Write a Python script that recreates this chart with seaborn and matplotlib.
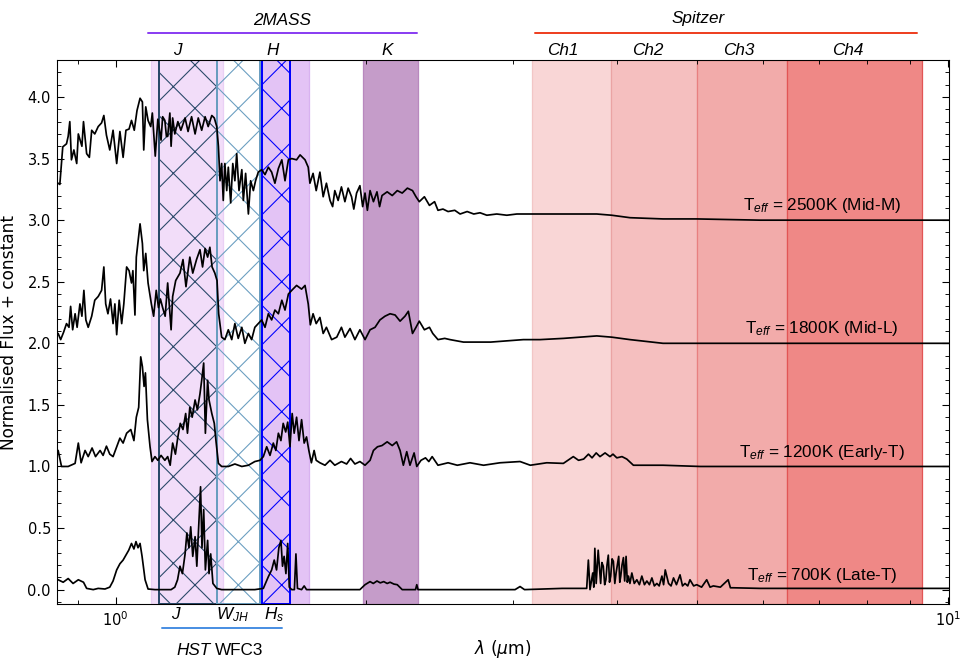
import numpy as np
import pandas as pd
import matplotlib
matplotlib.use("Agg")
import matplotlib.pyplot as plt
from matplotlib.ticker import MultipleLocator
import seaborn as sns

# spectra: (wavelength in um, normalised flux + offset)
spec_2500 = [(0.850, 3.30), (0.853, 3.30), (0.857, 3.29), (0.864, 3.595), (0.873, 3.62), (0.877, 3.68),
             (0.881, 3.80), (0.885, 3.49), (0.891, 3.57), (0.898, 3.46), (0.902, 3.70), (0.911, 3.60),
             (0.915, 3.80), (0.923, 3.54), (0.930, 3.51), (0.936, 3.73), (0.944, 3.70), (0.953, 3.76),
             (0.962, 3.79), (0.968, 3.85), (0.975, 3.69), (0.984, 3.57), (0.993, 3.73), (1.003, 3.46),
             (1.012, 3.72), (1.021, 3.51), (1.029, 3.73), (1.038, 3.74), (1.045, 3.81), (1.053, 3.73),
             (1.061, 3.89), (1.070, 3.99), (1.077, 3.96), (1.081, 3.57), (1.087, 3.92), (1.094, 3.81),
             (1.102, 3.76), (1.107, 3.87), (1.116, 3.52), (1.124, 3.82), (1.134, 3.65), (1.139, 3.84),
             (1.146, 3.81), (1.151, 3.68), (1.155, 3.68), (1.162, 3.87), (1.166, 3.60), (1.171, 3.83),
             (1.178, 3.70), (1.188, 3.80), (1.198, 3.73), (1.212, 3.83), (1.222, 3.72), (1.234, 3.84),
             (1.246, 3.70), (1.257, 3.83), (1.269, 3.73), (1.281, 3.84), (1.292, 3.76), (1.305, 3.85),
             (1.314, 3.83), (1.323, 3.76), (1.329, 3.60), (1.335, 3.32), (1.341, 3.46), (1.347, 3.16),
             (1.353, 3.46), (1.360, 3.24), (1.366, 3.43), (1.375, 3.14), (1.383, 3.46), (1.391, 3.32),
             (1.398, 3.54), (1.407, 3.24), (1.418, 3.41), (1.424, 3.16), (1.433, 3.38), (1.444, 3.05),
             (1.453, 3.32), (1.464, 3.24), (1.473, 3.32), (1.484, 3.39), (1.498, 3.41), (1.512, 3.37),
             (1.526, 3.43), (1.540, 3.39), (1.554, 3.30), (1.569, 3.42), (1.584, 3.49), (1.598, 3.32),
             (1.613, 3.49), (1.628, 3.50), (1.650, 3.49), (1.666, 3.53), (1.689, 3.49), (1.704, 3.43),
             (1.712, 3.30), (1.727, 3.38), (1.742, 3.24), (1.760, 3.39), (1.776, 3.19), (1.792, 3.30),
             (1.810, 3.16), (1.823, 3.11), (1.834, 3.24), (1.851, 3.16), (1.868, 3.27), (1.886, 3.15),
             (1.903, 3.26), (1.921, 3.19), (1.933, 3.09), (1.948, 3.22), (1.966, 3.28), (1.981, 3.11),
             (1.994, 3.22), (2.007, 3.08), (2.022, 3.24), (2.041, 3.15), (2.061, 3.23), (2.076, 3.11),
             (2.090, 3.20), (2.120, 3.23), (2.150, 3.20), (2.180, 3.24), (2.210, 3.22), (2.242, 3.26),
             (2.274, 3.24), (2.296, 3.19), (2.317, 3.15), (2.350, 3.19), (2.383, 3.12), (2.417, 3.15),
             (2.440, 3.08), (2.474, 3.09), (2.509, 3.07), (2.556, 3.08), (2.594, 3.05), (2.645, 3.07),
             (2.694, 3.05), (2.741, 3.06), (2.793, 3.04), (2.871, 3.05), (2.952, 3.04), (3.035, 3.05),
             (3.150, 3.05), (3.297, 3.05), (3.786, 3.05), (3.946, 3.04), (4.151, 3.02), (4.548, 3.01),
             (4.992, 3.01), (5.948, 3.00), (7.633, 3.00), (10.3, 3.00)]

spec_1800 = [(0.850, 2.08), (0.853, 2.08), (0.859, 2.03), (0.866, 2.09), (0.873, 2.16), (0.879, 2.13),
             (0.883, 2.30), (0.888, 2.11), (0.894, 2.24), (0.899, 2.13), (0.906, 2.32), (0.911, 2.22),
             (0.916, 2.43), (0.921, 2.19), (0.927, 2.13), (0.936, 2.22), (0.944, 2.35), (0.953, 2.38),
             (0.962, 2.43), (0.968, 2.62), (0.973, 2.32), (0.979, 2.24), (0.986, 2.36), (0.993, 2.16),
             (0.998, 2.32), (1.003, 2.07), (1.010, 2.35), (1.017, 2.16), (1.023, 2.32), (1.031, 2.62),
             (1.038, 2.59), (1.045, 2.49), (1.049, 2.59), (1.055, 2.23), (1.059, 2.70), (1.070, 2.97),
             (1.077, 2.81), (1.081, 2.59), (1.087, 2.73), (1.094, 2.49), (1.104, 2.32), (1.111, 2.22),
             (1.119, 2.43), (1.126, 2.29), (1.132, 2.36), (1.139, 2.29), (1.147, 2.22), (1.155, 2.49),
             (1.166, 2.11), (1.171, 2.38), (1.181, 2.51), (1.195, 2.57), (1.205, 2.68), (1.215, 2.46),
             (1.228, 2.70), (1.238, 2.57), (1.251, 2.68), (1.263, 2.76), (1.272, 2.62), (1.281, 2.77),
             (1.290, 2.70), (1.298, 2.78), (1.306, 2.62), (1.316, 2.57), (1.324, 2.51), (1.330, 2.24),
             (1.341, 2.05), (1.353, 2.03), (1.366, 2.11), (1.379, 2.03), (1.391, 2.16), (1.404, 2.04),
             (1.418, 2.13), (1.430, 2.00), (1.444, 2.08), (1.457, 2.03), (1.470, 2.13), (1.484, 2.16),
             (1.498, 2.19), (1.512, 2.13), (1.526, 2.24), (1.540, 2.19), (1.554, 2.27), (1.569, 2.24),
             (1.584, 2.35), (1.598, 2.27), (1.613, 2.40), (1.628, 2.43), (1.650, 2.47), (1.673, 2.44),
             (1.689, 2.47), (1.704, 2.32), (1.714, 2.15), (1.727, 2.24), (1.742, 2.16), (1.760, 2.21),
             (1.776, 2.08), (1.792, 2.13), (1.818, 2.03), (1.844, 2.05), (1.868, 2.13), (1.886, 2.05),
             (1.913, 2.12), (1.939, 2.03), (1.966, 2.11), (1.994, 2.03), (2.022, 2.11), (2.050, 2.13),
             (2.078, 2.19), (2.107, 2.22), (2.137, 2.24), (2.167, 2.23), (2.197, 2.18), (2.227, 2.22),
             (2.248, 2.26), (2.274, 2.08), (2.296, 2.13), (2.317, 2.18), (2.350, 2.11), (2.383, 2.13),
             (2.405, 2.08), (2.440, 2.03), (2.486, 2.04), (2.523, 2.03), (2.618, 2.01), (2.716, 2.01),
             (2.823, 2.01), (2.952, 2.02), (3.090, 2.03), (3.236, 2.03), (3.452, 2.04), (3.786, 2.06),
             (3.946, 2.05), (4.151, 2.03), (4.548, 2.00), (5.040, 2.00), (10.3, 2.00)]

spec_1200 = [(0.850, 1.13), (0.853, 1.13), (0.861, 1.00), (0.877, 1.00), (0.894, 1.025), (0.902, 1.19),
             (0.909, 1.03), (0.919, 1.13), (0.927, 1.08), (0.937, 1.15), (0.946, 1.08), (0.958, 1.13),
             (0.966, 1.09), (0.975, 1.165), (0.984, 1.10), (0.993, 1.08), (1.003, 1.16), (1.012, 1.23),
             (1.021, 1.19), (1.031, 1.27), (1.043, 1.30), (1.052, 1.21), (1.059, 1.40), (1.066, 1.48),
             (1.072, 1.89), (1.077, 1.81), (1.082, 1.65), (1.086, 1.76), (1.092, 1.38), (1.100, 1.16),
             (1.106, 1.04), (1.115, 1.08), (1.124, 1.05), (1.134, 1.09), (1.146, 1.05), (1.155, 1.08),
             (1.163, 1.01), (1.171, 1.19), (1.180, 1.10), (1.188, 1.24), (1.196, 1.35), (1.205, 1.30),
             (1.214, 1.43), (1.220, 1.27), (1.228, 1.48), (1.236, 1.40), (1.246, 1.54), (1.254, 1.46),
             (1.263, 1.59), (1.269, 1.70), (1.276, 1.84), (1.282, 1.27), (1.290, 1.70), (1.295, 1.54),
             (1.305, 1.43), (1.314, 1.35), (1.320, 1.21), (1.329, 1.025), (1.341, 1.00), (1.366, 1.00),
             (1.391, 1.02), (1.418, 1.00), (1.444, 1.01), (1.470, 1.04), (1.491, 1.05), (1.505, 1.08),
             (1.519, 1.16), (1.533, 1.09), (1.547, 1.19), (1.558, 1.13), (1.569, 1.27), (1.580, 1.21),
             (1.590, 1.35), (1.601, 1.28), (1.610, 1.36), (1.620, 1.16), (1.630, 1.43), (1.639, 1.27),
             (1.650, 1.40), (1.661, 1.21), (1.673, 1.38), (1.685, 1.19), (1.696, 1.24), (1.707, 1.13),
             (1.719, 1.03), (1.732, 1.13), (1.742, 1.05), (1.760, 1.03), (1.785, 1.01), (1.810, 1.05),
             (1.834, 1.01), (1.868, 1.04), (1.895, 1.02), (1.916, 1.065), (1.939, 1.02), (1.966, 1.04),
             (1.994, 1.01), (2.022, 1.05), (2.041, 1.13), (2.064, 1.16), (2.090, 1.17), (2.120, 1.20),
             (2.150, 1.17), (2.176, 1.20), (2.197, 1.13), (2.217, 1.01), (2.238, 1.12), (2.258, 1.01),
             (2.284, 1.11), (2.301, 1.00), (2.328, 1.05), (2.357, 1.07), (2.379, 1.04), (2.401, 1.08),
             (2.440, 1.01), (2.509, 1.03), (2.574, 1.01), (2.666, 1.03), (2.768, 1.01), (2.897, 1.03),
             (3.062, 1.04), (3.150, 1.01), (3.297, 1.03), (3.452, 1.025), (3.548, 1.08), (3.600, 1.05),
             (3.651, 1.06), (3.700, 1.10), (3.737, 1.07), (3.780, 1.11), (3.820, 1.08), (3.874, 1.11),
             (3.927, 1.08), (3.960, 1.10), (4.002, 1.07), (4.060, 1.08), (4.114, 1.06), (4.190, 1.01),
             (4.548, 1.01), (5.040, 1.00), (10.3, 1.00)]

spec_700 = [(0.850, 0.08), (0.853, 0.08), (0.865, 0.06), (0.877, 0.09), (0.889, 0.05), (0.902, 0.08),
            (0.915, 0.06), (0.923, 0.01), (0.940, 0.00), (0.953, 0.01), (0.971, 0.005), (0.984, 0.02),
            (0.993, 0.07), (1.003, 0.16), (1.012, 0.21), (1.021, 0.24), (1.031, 0.29), (1.037, 0.32),
            (1.045, 0.375), (1.052, 0.33), (1.058, 0.39), (1.064, 0.34), (1.070, 0.375), (1.076, 0.27),
            (1.085, 0.08), (1.094, 0.005), (1.115, 0.00), (1.166, 0.00), (1.178, 0.02), (1.187, 0.08),
            (1.195, 0.19), (1.203, 0.13), (1.212, 0.29), (1.218, 0.46), (1.225, 0.34), (1.231, 0.51),
            (1.238, 0.27), (1.246, 0.43), (1.252, 0.19), (1.259, 0.54), (1.265, 0.835), (1.270, 0.34),
            (1.276, 0.65), (1.282, 0.16), (1.290, 0.40), (1.295, 0.13), (1.301, 0.29), (1.309, 0.05),
            (1.323, 0.01), (1.341, 0.00), (1.470, 0.00), (1.505, 0.01), (1.526, 0.105), (1.540, 0.16),
            (1.551, 0.24), (1.561, 0.16), (1.571, 0.34), (1.580, 0.40), (1.587, 0.19), (1.594, 0.27),
            (1.602, 0.13), (1.610, 0.375), (1.617, 0.02), (1.628, 0.00), (1.640, 0.00), (1.647, 0.29),
            (1.654, 0.01), (1.673, 0.00), (1.685, 0.03), (1.696, 0.00), (1.966, 0.00), (1.994, 0.04),
            (2.022, 0.065), (2.040, 0.05), (2.061, 0.07), (2.080, 0.055), (2.100, 0.065), (2.120, 0.05),
            (2.137, 0.06), (2.160, 0.045), (2.180, 0.04), (2.210, 0.00), (2.293, 0.00), (2.301, 0.04),
            (2.309, 0.00), (3.020, 0.00), (3.062, 0.025), (3.100, 0.00), (3.441, 0.01), (3.682, 0.01),
            (3.699, 0.24), (3.716, 0.00), (3.744, 0.135), (3.755, 0.02), (3.766, 0.335), (3.780, 0.05),
            (3.801, 0.32), (3.827, 0.05), (3.840, 0.22), (3.855, 0.19), (3.870, 0.04), (3.883, 0.08),
            (3.895, 0.20), (3.909, 0.28), (3.922, 0.06), (3.935, 0.11), (3.950, 0.25), (3.964, 0.23),
            (3.980, 0.05), (3.994, 0.135), (4.010, 0.21), (4.023, 0.27), (4.035, 0.06), (4.046, 0.11),
            (4.060, 0.20), (4.076, 0.26), (4.090, 0.07), (4.106, 0.27), (4.120, 0.06), (4.133, 0.11),
            (4.150, 0.05), (4.172, 0.135), (4.200, 0.05), (4.230, 0.08), (4.260, 0.04), (4.289, 0.11),
            (4.320, 0.04), (4.349, 0.07), (4.380, 0.04), (4.410, 0.095), (4.440, 0.03), (4.471, 0.05),
            (4.500, 0.03), (4.534, 0.11), (4.555, 0.04), (4.576, 0.16), (4.618, 0.05), (4.650, 0.03),
            (4.682, 0.095), (4.720, 0.04), (4.767, 0.12), (4.800, 0.03), (4.833, 0.05), (4.870, 0.03),
            (4.900, 0.08), (4.950, 0.03), (4.992, 0.04), (5.060, 0.02), (5.132, 0.08), (5.180, 0.02),
            (5.227, 0.03), (5.330, 0.02), (5.446, 0.08), (5.480, 0.015), (5.522, 0.015), (5.950, 0.01),
            (10.3, 0.01)]

spectra = [spec_2500, spec_1800, spec_1200, spec_700]
spec_labels = ["T$_{eff}$ = 2500K (Mid-M)", "T$_{eff}$ = 1800K (Mid-L)",
               "T$_{eff}$ = 1200K (Early-T)", "T$_{eff}$ = 700K (Late-T)"]
spec_offsets = [3, 2, 1, 0]

# 2MASS filters (um)
tmass_names = ["J", "H", "K"]
tmass_lo = [1.102, 1.500, 1.983]
tmass_hi = [1.346, 1.709, 2.308]

# Spitzer IRAC channels (um)
irac_names = ["Ch1", "Ch2", "Ch3", "Ch4"]
irac_lo = [3.165, 3.942, 4.998, 6.413]
irac_hi = [3.942, 4.998, 6.413, 9.30]

# HST WFC3 filters (um)
hst_names = ["$J$", "$W_{JH}$", "$H_s$"]
hst_lo = [1.127, 1.324, 1.500]
hst_hi = [1.324, 1.491, 1.620]

DPI = 130
sns.set_style("ticks")
plt.rcParams["font.family"] = ["DejaVu Sans"]
plt.rcParams["mathtext.fontset"] = "dejavusans"
plt.rcParams["mathtext.rm"] = "Liberation Sans"
plt.rcParams["mathtext.it"] = "Liberation Sans:italic"
plt.rcParams["hatch.linewidth"] = 0.6
plt.rcParams["axes.linewidth"] = 0.6
for key in ["text.color", "axes.labelcolor", "xtick.color", "ytick.color", "axes.edgecolor"]:
    plt.rcParams[key] = "black"

fig = plt.figure(figsize=(966 / DPI, 660 / DPI), dpi=DPI)
ax = fig.add_axes([0.0593, 0.0848, 0.9226, 0.8242])

tmass_face = ["#f2ddf9", "#e3c3f5", "#c59cc9"]
tmass_edge = ["#ead0f5", "#d8b2f0", "#b888be"]
for lo, hi, fc, ec in zip(tmass_lo, tmass_hi, tmass_face, tmass_edge):
    ax.axvspan(lo, hi, facecolor=fc, edgecolor=ec, lw=0.7, zorder=0)

irac_face = ["#f9d6d6", "#f5bfbf", "#f2abaa", "#ef8886"]
irac_edge = ["#f2c6c6", "#eaa4a4", "#e88080", "#e25555"]
for lo, hi, fc, ec in zip(irac_lo, irac_hi, irac_face, irac_edge):
    ax.axvspan(lo, hi, facecolor=fc, edgecolor=ec, lw=0.7, zorder=0)

hst_color = ["#284868", "#6a9ec0", "#0000ff"]
for lo, hi, c in zip(hst_lo, hst_hi, hst_color):
    ax.axvspan(lo, hi, fill=False, hatch="x", edgecolor=c, lw=1.1, zorder=2)

for spec in spectra:
    df = pd.DataFrame(spec, columns=["wave", "flux"])
    sns.lineplot(data=df, x="wave", y="flux", color="black", lw=0.95,
                 sort=False, estimator=None, ax=ax, zorder=4)

ax.set_xscale("log")
ax.set_xlim(0.851, 10.02)
ax.set_ylim(-0.117, 4.30)
ax.yaxis.set_major_locator(MultipleLocator(0.5))
ax.yaxis.set_minor_locator(MultipleLocator(0.1))
ax.tick_params(which="both", direction="in", top=True, right=True)
ax.tick_params(which="major", length=3.9, width=0.6, labelsize=8.1)
ax.tick_params(which="minor", length=2.0, width=0.5)
ax.set_xlabel(r"$\lambda$ ($\mu$m)", fontsize=9.4, labelpad=5)
ax.set_ylabel("Normalised Flux + constant", fontsize=9.4, labelpad=5)

txt = dict(family="Liberation Sans", fontsize=9.5, math_fontfamily="custom", color="black")
for lab, off in zip(spec_labels, spec_offsets):
    ax.text(7.06, off + 0.08, lab, ha="center", va="baseline", zorder=5, **txt)

trans = ax.get_xaxis_transform()
# 2MASS bracket
ax.plot([1.093, 2.302], [1.049, 1.049], transform=trans, clip_on=False, color="#8b3ff2", lw=1.1)
ax.text(1.585, 1.064, "2MASS", transform=trans, ha="center", va="baseline", style="italic", **txt)
for name, x in zip(tmass_names, [1.188, 1.546, 2.118]):
    ax.text(x, 1.009, name, transform=trans, ha="center", va="baseline", style="italic", **txt)

# Spitzer bracket
ax.plot([3.19, 9.19], [1.049, 1.049], transform=trans, clip_on=False, color="#ee4022", lw=1.1)
ax.text(5.01, 1.068, "Spitzer", transform=trans, ha="center", va="baseline", style="italic", **txt)
for name, x in zip(irac_names, [3.449, 4.364, 5.60, 7.59]):
    ax.text(x, 1.009, name, transform=trans, ha="center", va="baseline", style="italic", **txt)

# HST bracket below the axis
for name, x in zip(hst_names, [1.182, 1.380, 1.551]):
    ax.text(x, -0.028, name, transform=trans, ha="center", va="baseline", **txt)
ax.plot([1.138, 1.583], [-0.0435, -0.0435], transform=trans, clip_on=False, color="#4a90e2", lw=1.1)
ax.text(1.302, -0.094, "HST", transform=trans, ha="right", va="baseline", style="italic", **txt)
ax.text(1.316, -0.094, "WFC3", transform=trans, ha="left", va="baseline", **txt)

fig.savefig("out.png", dpi=DPI)
